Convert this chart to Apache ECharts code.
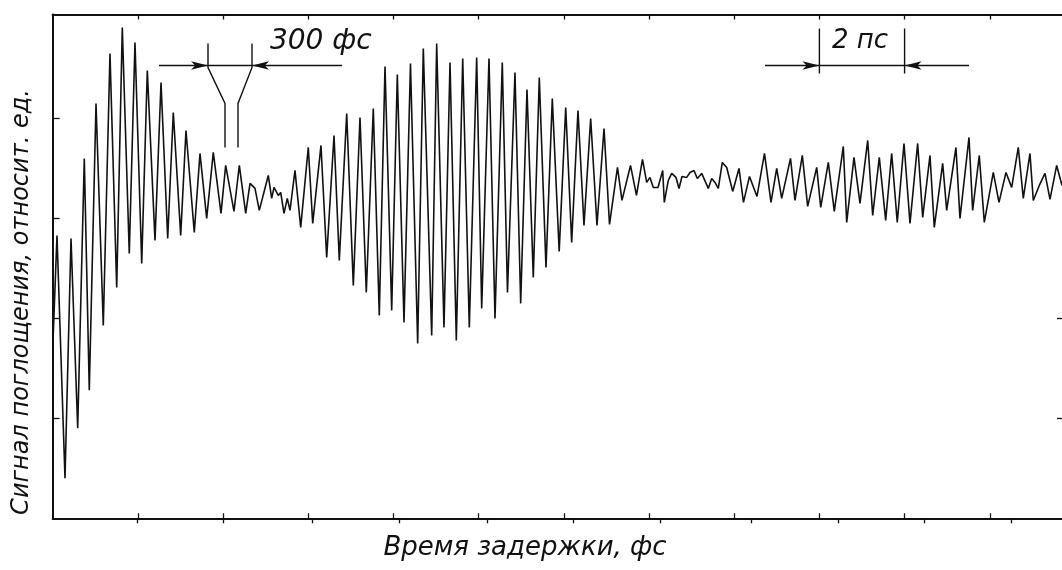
<!DOCTYPE html>
<html>
<head>
<meta charset="utf-8">
<script src="https://cdn.jsdelivr.net/npm/echarts@6/dist/echarts.min.js"></script>
<style>
  html, body { margin: 0; padding: 0; background: #fff; }
  #chart { width: 1062px; height: 570px; }
</style>
</head>
<body>
<div id="chart"></div>
<script>
// Delay (fs) of each turning point of the recorded trace
const delayFs = [10,103,291,432,589,744,861,1019,1190,1347,
  1505,1636,1800,1934,2092,2223,2404,2545,2702,2833,
  3007,3131,3326,3460,3617,3772,3953,4063,4258,4383,
  4533,4634,4751,4852,5063,5143,5197,5298,5354,5432,
  5509,5573,5690,5824,6002,6106,6300,6434,6606,6730,
  6904,7059,7216,7364,7528,7669,7803,7960,8092,8249,
  8401,8570,8702,8899,9016,9188,9329,9477,9627,9782,
  9955,10073,10244,10385,10556,10678,10854,10988,11136,11284,
  11425,11582,11730,11892,12045,12185,12333,12474,12631,12779,
  12944,13073,13260,13366,13566,13706,13847,13946,14023,14101,
  14211,14322,14359,14453,14533,14634,14704,14775,14885,14962,
  15056,15134,15237,15392,15472,15549,15627,15721,15824,15965,
  16113,16218,16359,16535,16711,16864,16998,17115,17322,17427,
  17599,17725,17937,18031,18209,18350,18561,18641,18812,18953,
  19134,19251,19406,19556,19697,19828,19986,20127,20307,20425,
  20596,20697,20894,20988,21206,21300,21512,21598,21753,21871,
  22082,22216,22380,22514,22669,22786,22943,23021,23162,23296,
  23413,23570,23695];

// Absorption signal, arbitrary units
const signal = [1.78,2.83,0.40,2.80,0.90,3.60,1.28,4.15,1.93,4.65,
  2.31,4.91,2.65,4.76,2.55,4.48,2.78,4.36,2.80,4.06,
  2.83,3.88,2.86,3.65,3.00,3.66,3.05,3.53,3.07,3.53,
  3.05,3.35,3.30,3.08,3.43,3.20,3.31,3.23,3.26,3.05,
  3.20,3.08,3.48,2.91,3.71,2.95,3.73,2.61,3.83,2.58,
  4.05,2.33,4.01,2.26,4.10,2.03,4.52,2.08,4.44,1.96,
  4.55,1.75,4.70,1.83,4.75,1.91,4.56,1.78,4.60,1.91,
  4.61,2.10,4.60,2.00,4.56,2.26,4.46,2.15,4.29,2.41,
  4.41,2.51,4.20,2.67,4.11,2.76,4.08,2.93,4.00,2.93,
  3.90,2.94,3.51,3.18,3.53,3.23,3.59,3.36,3.41,3.31,
  3.31,3.48,3.16,3.38,3.45,3.41,3.30,3.42,3.41,3.46,
  3.48,3.40,3.45,3.30,3.40,3.36,3.30,3.56,3.51,3.27,
  3.50,3.16,3.42,3.22,3.65,3.16,3.50,3.20,3.60,3.18,
  3.63,3.12,3.51,3.11,3.56,3.07,3.72,2.96,3.61,3.15,
  3.78,3.03,3.61,2.98,3.65,2.96,3.75,2.95,3.75,3.01,
  3.63,2.91,3.55,3.08,3.71,3.00,3.81,3.08,3.63,2.96,
  3.46,3.16,3.46,3.31,3.71,3.20,3.65,3.18,3.33,3.45,
  3.19,3.53,3.33];

// Axis ticks (no labels on either axis)
const delayTicks = [2000,4000,6000,8000,10000,12000,14000,16000,18000,20000,22000];
const delayTicksOuter = [1981,4000,6089,8131,10197,12230,14257,16393,18435,20454,22497];
const signalTicks = [1,2,3,4];
const signalTicksRight = [1,2];

// Scale markers: oscillation period (300 fs) and 2 ps span
const periodMark = { from: 3648, to: 4681, level: 4.53, top: 4.75, knee: 4.51, neck: 4.15, stemL: 4047, stemR: 4352, stemEnd: 3.71, leadL: 2498, leadR: 6793 };
const spanMark = { from: 18000, to: 20000, level: 4.53, top: 4.90, bottom: 4.45, leadL: 16723, leadR: 21512 };

const titleY = 'Сигнал поглощения, относит. ед.';
const titleX = 'Время задержки, фс';
const periodText = '300 фс';
const spanText = '2 пс';

const ink = '#111';
const fontFam = '"DejaVu Sans", sans-serif';
const X_MAX = 23695;
const Y_MAX = 5.04;

const chart = echarts.init(document.getElementById('chart'), null, { renderer: 'canvas' });

function axis(extra, tickValues, inside, len, showLine) {
  return Object.assign({
    type: 'value',
    axisLabel: { show: false },
    splitLine: { show: false },
    axisLine: { show: showLine, onZero: false, lineStyle: { color: ink, width: 2 } },
    axisTick: { show: true, inside: inside, length: len, customValues: tickValues, lineStyle: { color: ink, width: 1.3 } }
  }, extra);
}

// Slim barbed arrowhead inside a square box: the tip sits at the box centre
// so it lands on the segment end; the bare moveTo points only pad the box.
const arrowHead = 'path://M0,0 M40,0 M40,40 M0,40 M20,20 L25,40 L20,35 L15,40 Z';

const arrowSegments = [
  [[periodMark.leadL, periodMark.level], [periodMark.from, periodMark.level]],
  [[periodMark.leadR, periodMark.level], [periodMark.to, periodMark.level]],
  [[spanMark.leadL, spanMark.level], [spanMark.from, spanMark.level]],
  [[spanMark.leadR, spanMark.level], [spanMark.to, spanMark.level]]
];
const plainSegments = [
  [[periodMark.from, periodMark.level], [periodMark.to, periodMark.level]],
  [[periodMark.from, periodMark.top], [periodMark.from, periodMark.knee], [periodMark.stemL, periodMark.neck], [periodMark.stemL, periodMark.stemEnd]],
  [[periodMark.to, periodMark.top], [periodMark.to, periodMark.knee], [periodMark.stemR, periodMark.neck], [periodMark.stemR, periodMark.stemEnd]],
  [[spanMark.from, spanMark.level], [spanMark.to, spanMark.level]],
  [[spanMark.from, spanMark.top], [spanMark.from, spanMark.bottom]],
  [[spanMark.to, spanMark.top], [spanMark.to, spanMark.bottom]]
];

chart.setOption({
  animation: false,
  backgroundColor: '#fff',
  grid: { left: 52.6, right: 0, top: 14.5, bottom: 51.7, outerBoundsMode: 'none' },
  xAxis: [
    axis({ position: 'bottom', min: 0, max: X_MAX }, delayTicks, true, 5, true),
    axis({ position: 'top', min: 0, max: X_MAX }, delayTicks, true, 5, true),
    axis({ position: 'bottom', min: 0, max: X_MAX }, delayTicksOuter, false, 5, false)
  ],
  yAxis: [
    axis({ position: 'left', min: 0, max: Y_MAX }, signalTicks, true, 7, true),
    axis({ position: 'right', min: 0, max: Y_MAX }, signalTicksRight, true, 5, false)
  ],
  series: [
    {
      type: 'line',
      data: delayFs.map((t, i) => [t, signal[i]]),
      showSymbol: false,
      lineStyle: { color: ink, width: 1.6 },
      z: 3
    },
    {
      type: 'lines',
      coordinateSystem: 'cartesian2d',
      polyline: true,
      data: plainSegments.map(c => ({ coords: c })),
      lineStyle: { color: ink, width: 1.4, opacity: 1 },
      symbol: 'none',
      z: 4
    },
    {
      type: 'lines',
      coordinateSystem: 'cartesian2d',
      data: arrowSegments.map(c => ({ coords: c })),
      lineStyle: { color: ink, width: 1.4, opacity: 1 },
      symbol: ['none', arrowHead],
      symbolSize: [0, 34],
      z: 4
    }
  ]
});

// Titles and marker captions
const p1 = chart.convertToPixel({ gridIndex: 0 }, [5103, 4.77]);
const p2 = chart.convertToPixel({ gridIndex: 0 }, [18296, 4.77]);

chart.setOption({
  graphic: [
    {
      type: 'text', x: 22, y: 302, rotation: Math.PI / 2,
      style: { text: titleY, fill: ink, font: 'italic 24px ' + fontFam, align: 'center', verticalAlign: 'middle' }
    },
    {
      type: 'text', x: 525, y: 548,
      style: { text: titleX, fill: ink, font: 'italic 26px ' + fontFam, align: 'center', verticalAlign: 'middle' }
    },
    {
      type: 'text', x: p1[0], y: p1[1],
      style: { text: periodText, fill: ink, font: 'italic 28px ' + fontFam, align: 'left', verticalAlign: 'middle' }
    },
    {
      type: 'text', x: p2[0], y: p2[1],
      style: { text: spanText, fill: ink, font: 'italic 26px ' + fontFam, align: 'left', verticalAlign: 'middle' }
    }
  ]
});
</script>
</body>
</html>
